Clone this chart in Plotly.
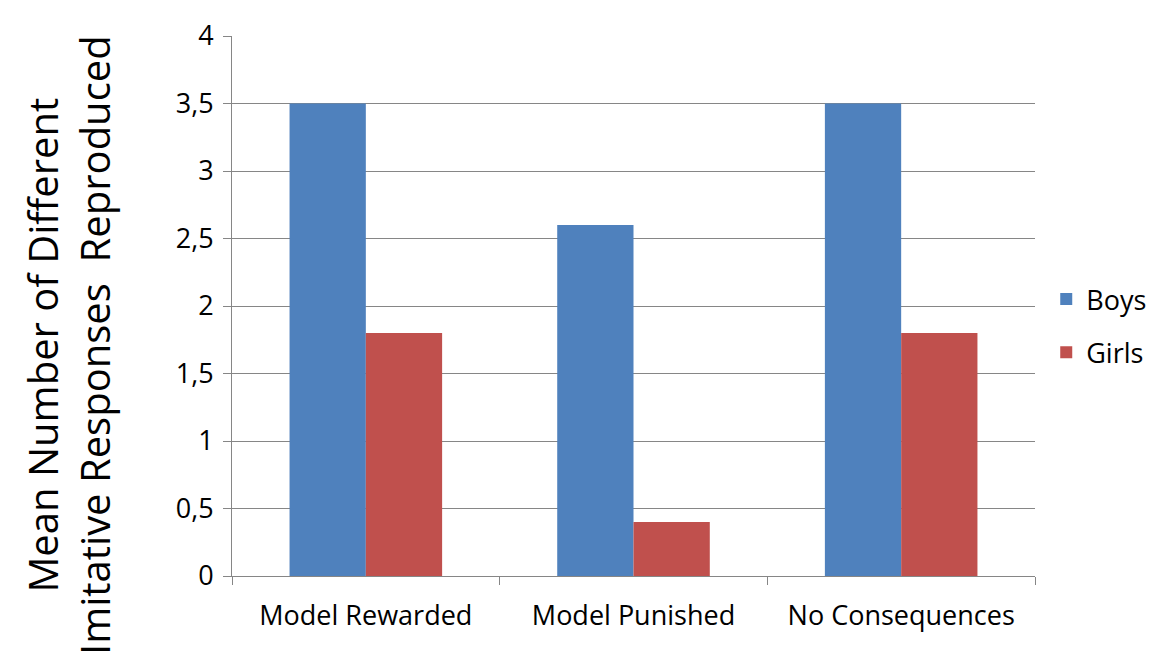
import plotly.graph_objects as go

categories = ["Model Rewarded", "Model Punished", "No Consequences"]
boys = [3.5, 2.6, 3.5]
girls = [1.8, 0.4, 1.8]
y_ticks = [0, 0.5, 1, 1.5, 2, 2.5, 3, 3.5, 4]
y_tick_labels = ["0", "0,5", "1", "1,5", "2", "2,5", "3", "3,5", "4"]

FONT = "Open Sans"

fig = go.Figure()
fig.add_trace(go.Bar(name="Boys", x=categories, y=boys, legendgroup="b",
                     marker=dict(color="#4F81BD", line=dict(width=0))))
fig.add_trace(go.Bar(name="Girls", x=categories, y=girls, legendgroup="g",
                     marker=dict(color="#C0504D", line=dict(width=0))))

fig.update_layout(
    width=1149, height=654,
    paper_bgcolor="white", plot_bgcolor="white",
    margin=dict(l=224, r=122, t=28, b=86, autoexpand=False),
    barmode="group", bargap=0.43, bargroupgap=0,
    font=dict(family=FONT, size=27, color="#000000"),
    showlegend=True,
    legend=dict(x=1.014, y=0.463, xanchor="left", yanchor="middle",
                font=dict(size=27, family=FONT), traceorder="grouped",
                tracegroupgap=15, itemsizing="constant"),
    xaxis=dict(showline=True, linecolor="#868686", linewidth=1,
               ticks="outside", tickson="boundaries", ticklen=8, tickcolor="#868686",
               tickfont=dict(size=27, family=FONT), showgrid=False,
               ticklabelstandoff=16),
    yaxis=dict(range=[0, 4], tickvals=y_ticks, ticktext=y_tick_labels,
               showline=True, linecolor="#868686", linewidth=1,
               ticks="outside", ticklen=8, tickcolor="#868686",
               showgrid=True, gridcolor="#868686", gridwidth=1,
               tickfont=dict(size=27, family=FONT), zeroline=False,
               ticklabelstandoff=4),
)

fig.add_annotation(text="Mean Number of Different<br>Imitative Responses  Reproduced",
                   xref="paper", yref="paper", x=0, y=0.5, xshift=-164, yshift=-39,
                   xanchor="center", yanchor="middle", textangle=-90, showarrow=False,
                   font=dict(size=40, family=FONT, color="#000000"))

fig.write_html("out.html")
